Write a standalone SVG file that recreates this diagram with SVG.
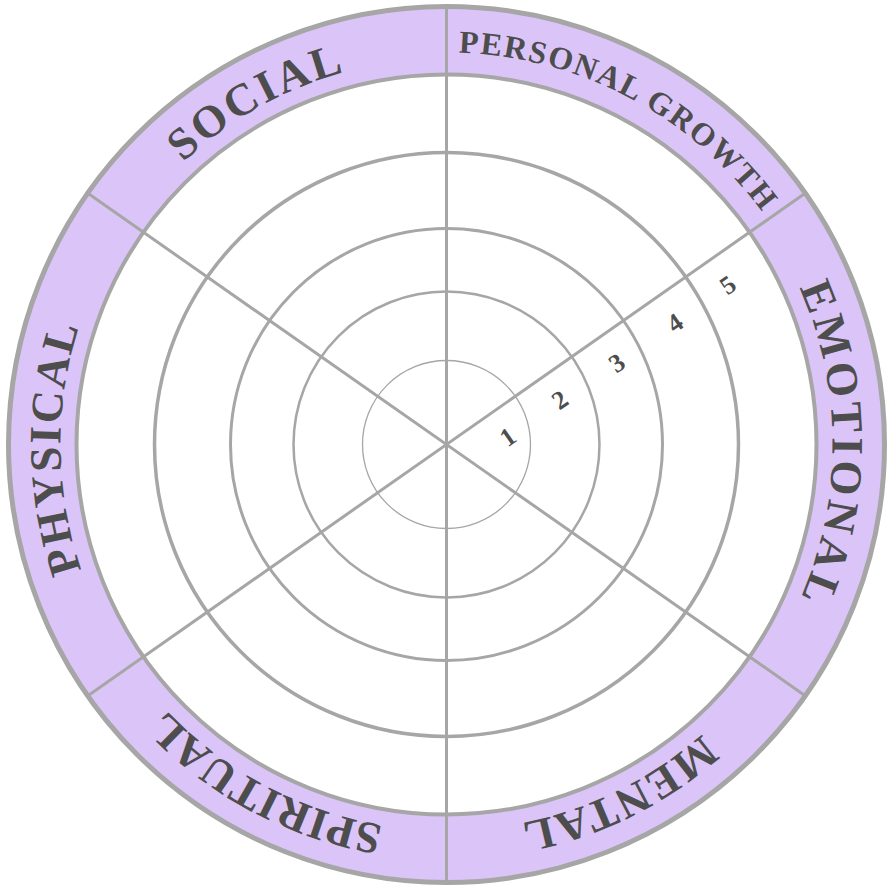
<svg xmlns="http://www.w3.org/2000/svg" xmlns:xlink="http://www.w3.org/1999/xlink" width="890" height="888" viewBox="0 0 890 888">
<defs>
<style>
.ring{fill:none;stroke:#a6a6a6}
.spoke{stroke:#a6a6a6;stroke-width:3;fill:none}
.lbl{font-family:"Liberation Serif","DejaVu Serif",serif;fill:#4d4d4d;font-size:45px;font-weight:bold}
.pg{font-size:32px}
.num{font-family:"Liberation Serif","DejaVu Serif",serif;fill:#4d4d4d;font-size:26px;font-weight:bold;text-anchor:middle;dominant-baseline:central}
</style>
<path id="tp" d="M 446.5 830.5 A 386 386 0 1 1 446.5 58.5 A 386 386 0 1 1 446.5 830.5"/>
<path id="tp2" d="M 446.5 836.5 A 392 392 0 1 1 446.5 52.5 A 392 392 0 1 1 446.5 836.5"/>
</defs>
<rect width="890" height="888" fill="#ffffff"/>
<g id="band">
<circle cx="446.5" cy="444.5" r="438" fill="#dbc5f8" stroke="#a6a6a6" stroke-width="5"/>
<circle cx="446.5" cy="444.5" r="370" fill="#ffffff" stroke="#a6a6a6" stroke-width="4"/>
</g>
<g id="rings">
<circle class="ring" cx="446.5" cy="444.5" r="292" stroke-width="3.5"/>
<circle class="ring" cx="446.5" cy="444.5" r="216" stroke-width="3"/>
<circle class="ring" cx="446.5" cy="444.5" r="153" stroke-width="2.5"/>
<circle class="ring" cx="446.5" cy="444.5" r="84" stroke-width="1.3"/>
</g>
<g id="connectors">
<line class="spoke" x1="446.5" y1="6.5" x2="446.5" y2="882.5"/>
<line class="spoke" x1="806.9" y1="192.1" x2="86.1" y2="696.9"/>
<line class="spoke" x1="86.1" y1="192.1" x2="806.9" y2="696.9"/>
</g>
<g id="social"><text class="lbl" text-anchor="middle" letter-spacing="2.7"><textPath xlink:href="#tp" href="#tp" startOffset="41.94%">SOCIAL</textPath></text></g>
<g id="personal-growth"><text class="lbl pg" text-anchor="middle" letter-spacing="1.6"><textPath xlink:href="#tp2" href="#tp2" startOffset="57.72%">PERSONAL GROWTH</textPath></text></g>
<g id="emotional"><text class="lbl" text-anchor="middle" letter-spacing="4.2"><textPath xlink:href="#tp" href="#tp" startOffset="75%">EMOTIONAL</textPath></text></g>
<g id="mental"><text class="lbl" text-anchor="middle" letter-spacing="1.9"><textPath xlink:href="#tp" href="#tp" startOffset="92.72%">MENTAL</textPath></text></g>
<g id="spiritual"><text class="lbl" text-anchor="middle" letter-spacing="0.5"><textPath xlink:href="#tp" href="#tp" startOffset="7.78%">SPIRITUAL</textPath></text></g>
<g id="physical"><text class="lbl" text-anchor="middle" letter-spacing="2.1"><textPath xlink:href="#tp" href="#tp" startOffset="24.86%">PHYSICAL</textPath></text></g>
<g id="scale">
<text class="num" x="508" y="437" transform="rotate(-35 508 437)">1</text>
<text class="num" x="560" y="400" transform="rotate(-35 560 400)">2</text>
<text class="num" x="617" y="363" transform="rotate(-35 617 363)">3</text>
<text class="num" x="675" y="323" transform="rotate(-35 675 323)">4</text>
<text class="num" x="728" y="285" transform="rotate(-35 728 285)">5</text>
</g>
</svg>
